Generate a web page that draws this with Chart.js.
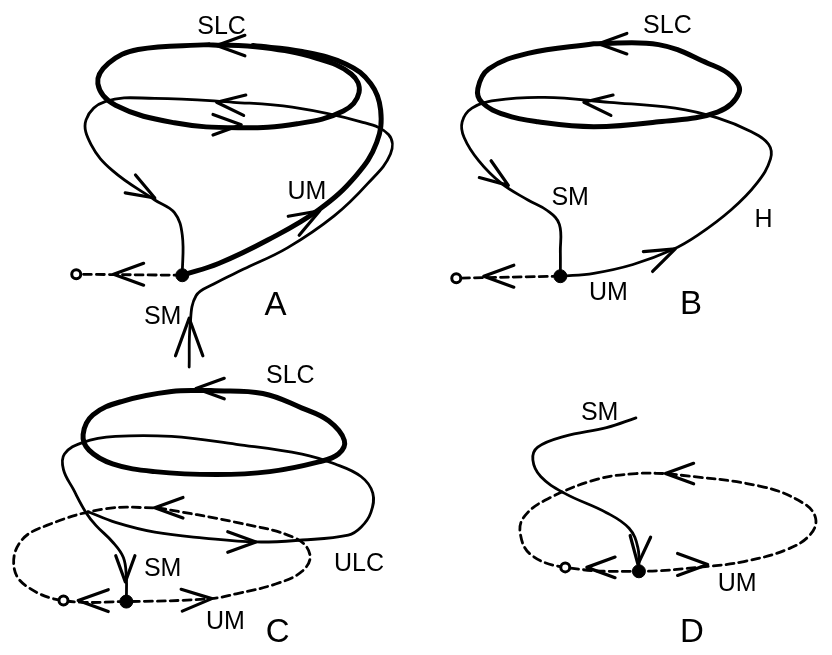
<!DOCTYPE html>
<html>
<head>
<meta charset="utf-8">
<script src="https://cdn.jsdelivr.net/npm/chart.js@4.4.0/dist/chart.umd.min.js"></script>
<style>
  body { margin: 0; background: #fff; }
  canvas { display: block; }
</style>
</head>
<body>
<canvas id="chart" width="832" height="655"></canvas>
<script>
// curves, in picture coordinates (x right, y down)
var slcA = [[205,38],[260,41],[315,52],[350,68],[358,87],[342,106],[295,119],[235,123],[170,118],[110,100],[92,78],[103,57],[133,43],[205,38]];
var umA = [[178,274],[215,262],[265,238],[317,207],[355,172],[376,138],[380,105],[370,78],[345,58],[300,45],[250,39]];
var smA = [[185,368],[186,325],[192,295],[210,283],[240,268],[285,246],[333,213],[367,180],[390,150],[388,130],[360,117],[290,102],[230,97],[150,93],[100,96],[80,115],[85,140],[107,167],[150,197],[170,210],[178,233],[178,274]];
var dashA = [[178,274],[70,273]];

var slcB = [[597,37],[663,38],[713,57],[737,70],[745,87],[723,107],[663,117],[597,122],[540,117],[507,110],[483,97],[479,83],[490,63],[530,47],[597,37]];
var orbitB = [[563,275],[563,250],[562,222],[550,208],[530,197],[503,180],[480,157],[465,133],[463,117],[473,103],[497,95],[547,92],[613,97],[680,103],[723,113],[757,127],[775,140],[777,155],[763,180],[737,207],[703,233],[677,248],[637,263],[597,272],[563,275]];
var dashB = [[563,275],[457,277]];

var slcC = [[207,392],[260,395],[300,410],[327,423],[343,443],[337,457],[317,465],[267,475],[213,478],[150,475],[107,467],[83,453],[77,437],[87,417],[117,403],[167,393],[207,392]];
var smC = [[121,608],[121,583],[118,563],[107,547],[90,530],[80,517],[67,493],[57,473],[58,457],[77,445],[110,439],[167,439],[233,447],[300,457],[333,467],[360,480],[372,497],[370,517],[360,532],[347,540],[300,545],[253,547],[200,543],[150,537],[110,527],[82,516]];
var ulcC = [[153,512],[233,527],[293,543],[308,560],[300,577],[273,590],[233,600],[207,605],[120,608],[57,607],[22,594],[7,575],[13,547],[40,530],[100,513],[153,512]];

var smD = [[640,420],[610,430],[567,439],[540,450],[535,463],[543,480],[567,497],[610,517],[633,533],[642,553],[643,577]];
var ulcD = [[673,477],[767,490],[810,507],[823,523],[817,540],[793,555],[750,567],[713,572],[643,577],[568,573],[533,560],[522,537],[527,520],[550,503],[600,483],[640,477],[673,477]];

var saddles = [[178,274],[563,275],[121,608],[643,577]];
var sources = [[70,273],[457,277],[57,607],[568,573]];

// arrow tips: x, y, direction in degrees, arm length
var arrows = [
  [108,273,180,32],[213,39,180,30],[213,97,186,30],[238,120,0,30],[318,208,-30,32],[150,195,30,30],[185,318,-90,40],
  [602,37,180,30],[587,97,186,30],[510,182,35,30],[680,247,-25,32],[485,275,180,32],
  [192,390,180,30],[150,512,180,30],[253,547,0,30],[120,588,90,28],[72,607,180,32],[208,605,-3,32],
  [670,477,180,30],[642,570,95,30],[590,573,180,30],[713,570,0,32]
];

var labels = [
  ['SLC',218,18,25],['UM',305,187,25],['SM',158,315,25],['A',273,303,33],
  ['SLC',672,17,25],['SM',573,193,25],['H',770,215,25],['UM',612,290,25],['B',696,302,33],
  ['SLC',288,375,25],['SM',158,573,25],['ULC',358,567,25],['UM',222,627,25],['C',275,637,33],
  ['SM',603,413,25],['UM',743,588,25],['D',697,637,33]
];

function pts(arr) {
    return arr.map(function (p) { return { x: p[0], y: p[1] }; });
}

function curve(arr, width, dashed) {
    return {
        data: pts(arr),
        showLine: true,
        borderColor: '#000',
        borderWidth: width,
        borderDash: dashed ? [8, 5] : [],
        borderCapStyle: 'round',
        borderJoinStyle: 'round',
        tension: 0.4,
        pointRadius: 0,
        fill: false
    };
}

var datasets = [
    { data: pts(saddles), pointRadius: 6.5, pointBackgroundColor: '#000', pointBorderColor: '#000', pointBorderWidth: 1 },
    { data: pts(sources), pointRadius: 4.5, pointBackgroundColor: '#fff', pointBorderColor: '#000', pointBorderWidth: 3 },
    curve(slcA, 5), curve(umA, 5), curve(smA, 2.8), curve(dashA, 2.8, true),
    curve(slcB, 5), curve(orbitB, 2.8), curve(dashB, 2.8, true),
    curve(slcC, 5), curve(smC, 2.8), curve(ulcC, 2.8, true),
    curve(smD, 2.8), curve(ulcD, 2.8, true)
];

var marks = {
    id: 'marks',
    afterDatasetsDraw: function (chart) {
        var ctx = chart.ctx, sx = chart.scales.x, sy = chart.scales.y;
        ctx.save();
        ctx.strokeStyle = '#000';
        ctx.lineWidth = 3.2;
        ctx.lineCap = 'round';
        ctx.lineJoin = 'round';
        var half = 20 * Math.PI / 180;
        arrows.forEach(function (a) {
            var tx = sx.getPixelForValue(a[0]), ty = sy.getPixelForValue(a[1]);
            var ang = a[2] * Math.PI / 180, len = a[3];
            ctx.beginPath();
            ctx.moveTo(tx - len * Math.cos(ang + half), ty - len * Math.sin(ang + half));
            ctx.lineTo(tx, ty);
            ctx.lineTo(tx - len * Math.cos(ang - half), ty - len * Math.sin(ang - half));
            ctx.stroke();
        });
        ctx.fillStyle = '#000';
        ctx.textAlign = 'center';
        ctx.textBaseline = 'alphabetic';
        labels.forEach(function (l) {
            ctx.font = l[3] + 'px "Liberation Sans", Arial, sans-serif';
            ctx.fillText(l[0], sx.getPixelForValue(l[1]), sy.getPixelForValue(l[2]) + l[3] * 0.36);
        });
        ctx.restore();
    }
};

new Chart(document.getElementById('chart').getContext('2d'), {
    type: 'scatter',
    data: { datasets: datasets },
    options: {
        responsive: false,
        animation: false,
        layout: { padding: 0 },
        plugins: { legend: { display: false }, tooltip: { enabled: false } },
        scales: {
            x: { type: 'linear', display: false, min: 0, max: 832 },
            y: { type: 'linear', display: false, min: 0, max: 655, reverse: true }
        }
    },
    plugins: [marks]
});
</script>
</body>
</html>
